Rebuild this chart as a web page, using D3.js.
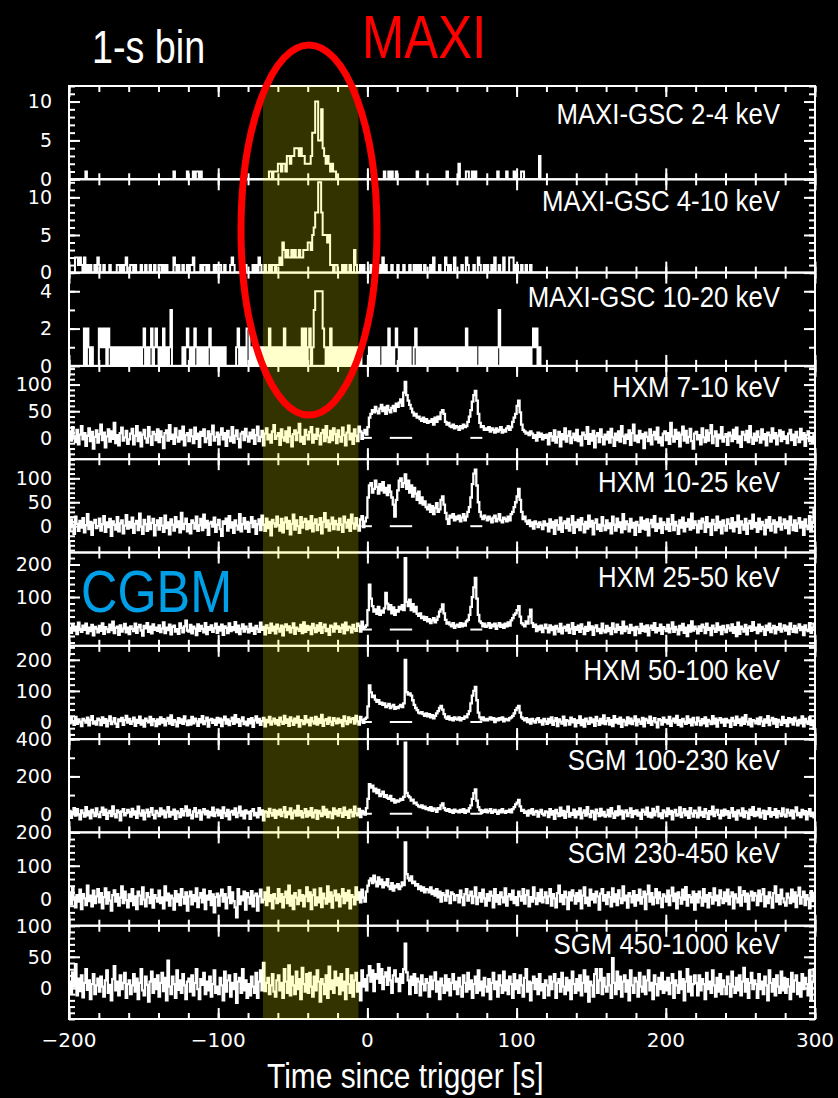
<!DOCTYPE html>
<html>
<head>
<meta charset="utf-8">
<script src="https://cdn.jsdelivr.net/npm/d3@7"></script>
<style>
  body { margin: 0; background: #000; }
  svg { display: block; }
</style>
</head>
<body>
<div id="chart"></div>
<script>
// 1-s bin light curves; each row holds 20 s, first row starts at t = -200 s
const tStart = -200

const gscLow = [
  [0,0,0,0,0,0,0,0,0,0,0,1,0,0,0,0,0,0,0,0],
  [0,0,0,0,0,0,0,0,0,0,0,0,0,0,0,0,0,0,0,0],
  [0,0,0,0,0,0,0,0,0,0,0,0,0,0,0,0,0,0,0,0],
  [0,0,0,0,0,0,0,0,0,0,1,0,0,0,0,0,0,0,0,1],
  [0,0,0,1,0,1,1,0,1,0,0,0,0,0,0,0,0,0,0,0],
  [0,0,0,0,0,0,0,0,0,0,0,0,0,0,0,0,0,0,0,0],
  [0,0,0,0,0,0,0,0,0,0,0,0,0,0,1,1,0,1,1,1],
  [2,2,1,2,2,1,3,3,2,3,3,4,4,4,3,4,3,3,2,2],
  [2,2,3,6,6,10,10,5,5,9,4,3,2,3,2,1,2,1,1,0],
  [0,0,0,0,0,0,0,0,0,0,0,0,0,0,0,0,0,0,0,0],
  [0,0,0,0,0,0,0,0,0,0,0,1,0,0,1,0,1,0,0,1],
  [0,0,0,0,0,0,0,0,0,0,0,0,0,1,0,0,0,0,0,0],
  [0,0,0,0,0,0,0,0,0,0,0,0,0,1,0,0,0,0,0,0],
  [0,2,0,0,0,0,1,1,0,0,1,0,1,0,0,0,0,0,0,0],
  [0,0,0,0,0,0,0,1,0,0,0,0,0,1,0,0,0,0,1,0],
  [0,0,0,1,1,0,0,0,0,0,0,0,0,0,0,3,0,0,0,0]
]

const gscMid = [
  [0,0,0,0,2,2,1,2,1,0,2,0,1,0,1,0,0,1,0,2],
  [1,0,0,1,0,0,0,1,0,0,0,0,1,1,0,1,0,1,2,0],
  [0,1,1,0,1,0,0,0,1,0,0,1,0,0,1,0,0,1,0,0],
  [1,1,0,1,0,1,0,0,0,0,2,1,0,1,0,0,1,0,0,1],
  [0,1,1,2,0,0,0,0,1,0,1,1,0,1,0,0,0,1,0,1],
  [1,1,0,0,1,0,0,0,1,2,1,0,0,0,0,1,1,0,1,0],
  [0,0,0,1,0,1,0,2,1,0,0,1,0,0,1,0,1,1,0,1],
  [1,2,1,4,3,2,3,2,2,3,2,3,2,2,3,2,2,3,3,3],
  [4,4,3,5,6,8,8,12,12,8,5,5,5,4,5,1,1,0,1,1],
  [0,0,0,1,0,1,0,0,1,0,0,3,1,0,0,1,0,1,0,0],
  [0,0,1,0,0,1,0,0,1,0,2,0,1,0,0,0,1,0,0,0],
  [1,0,0,0,1,0,0,0,1,0,0,1,0,1,0,1,0,0,1,0],
  [0,0,1,0,2,0,0,0,1,0,0,0,2,1,0,1,0,0,2,0],
  [0,0,0,1,0,0,2,1,0,0,0,1,0,0,2,1,0,0,1,0],
  [1,0,0,1,0,2,0,0,1,0,0,2,0,0,0,2,2,2,0,1],
  [1,0,0,1,0,0,1,0,0,1,0,0,0,0,0,0,0,0,0,0]
]

const gscHigh = [
  [0,0,0,0,0,0,0,0,0,0,2,0,2,1,0,1,0,0,0,0],
  [2,1,2,1,2,0,2,1,0,1,0,1,0,1,0,1,0,1,0,1],
  [0,1,0,1,0,1,0,1,0,1,2,0,1,0,1,2,0,1,2,1],
  [0,1,0,2,0,1,0,1,3,0,0,0,0,0,0,0,1,0,1,2],
  [1,0,1,0,2,1,0,1,0,1,0,1,0,1,2,0,1,0,1,0],
  [1,0,1,0,1,0,0,0,0,0,0,0,1,2,0,1,0,1,0,2],
  [2,0,1,0,1,0,1,0,1,0,1,0,1,0,2,0,1,0,1,0],
  [1,0,1,0,2,0,1,0,1,0,1,0,1,0,1,0,2,0,2,0],
  [1,2,0,1,3,4,4,4,4,4,2,1,0,1,0,2,0,1,0,1],
  [0,1,0,1,0,1,0,1,0,1,0,1,0,1,0,1,0,0,0,0],
  [0,1,0,1,0,1,0,1,0,0,1,0,1,0,2,0,1,0,1,2],
  [1,0,1,0,1,0,1,0,1,0,0,1,2,0,1,0,1,0,1,0],
  [1,0,1,0,1,0,1,0,1,0,1,0,1,0,1,0,1,0,1,0],
  [1,0,1,0,1,0,2,0,1,0,1,0,1,0,0,1,0,1,0,1],
  [0,1,0,1,0,1,0,1,3,0,1,0,1,0,1,0,1,0,1,0],
  [1,0,1,0,1,0,1,0,1,0,1,2,1,2,0,1,0,0,0,0]
]

const hxm7to10 = [
  [12,-5,20,3,-8,15,-12,6,22,-3,9,-15,4,18,-6,11,-20,2,14,-9],
  [7,25,-4,10,-18,3,16,-7,12,-2,28,-10,5,-14,9,19,-5,1,13,-11],
  [-3,8,17,-12,4,22,-6,10,-16,6,15,-1,-9,20,3,-13,11,7,-4,16],
  [-8,12,2,-19,9,14,-5,24,-2,6,-11,18,1,-7,13,-3,21,-14,5,9],
  [-6,15,3,-10,19,-2,8,-17,11,4,16,-8,-1,12,-13,7,23,-5,2,10],
  [-12,6,18,-3,9,-15,13,1,-6,20,-9,4,14,-2,-18,8,11,-4,17,3],
  [-7,10,-1,15,-11,5,21,-6,2,13,-14,8,18,-3,6,-9,12,24,-2,4],
  [9,-13,16,1,-5,12,-8,19,3,-16,7,14,-4,10,26,-7,2,-11,15,5],
  [-3,11,20,-9,6,-2,17,4,-12,9,15,-6,22,1,-8,13,-4,18,7,-10],
  [14,2,-7,19,5,-14,10,23,-3,8,-11,16,4,-6,21,12,-2,9,15,6],
  [20,38,45,52,48,58,50,46,55,62,50,57,45,60,52,48,56,60,50,64],
  [58,66,72,60,85,105,80,70,62,55,48,42,45,38,40,35,32,38,30,35],
  [28,32,30,35,25,38,30,40,35,48,52,45,30,25,28,22,20,25,18,22],
  [20,15,22,18,25,20,22,30,40,52,68,80,88,70,45,28,20,22,15,18],
  [15,20,12,18,15,10,18,12,15,20,10,15,12,18,22,15,20,30,38,45],
  [60,70,48,25,15,12,8,10,5,12,8,0,5,-5,10,2,8,-3,5,0],
  [6,-12,9,3,-5,14,-9,2,11,-16,7,-3,18,-7,4,12,-10,1,8,-4],
  [15,-6,3,-14,10,5,-2,20,-11,7,-5,13,-18,4,9,-8,16,2,-12,6],
  [-3,11,-9,17,1,-15,8,-4,12,-7,22,3,-10,6,-2,14,-13,9,25,-5],
  [4,-8,13,-1,7,-19,10,2,-6,16,-12,5,11,-3,19,-9,1,-14,8,12],
  [-4,9,-11,28,3,-7,15,-2,10,-16,6,21,-5,13,-9,2,17,-6,-20,8],
  [11,-3,5,-12,18,1,-8,14,-5,9,24,-10,3,12,-15,6,-1,20,-7,2],
  [7,-13,10,4,-6,15,-2,19,-9,3,-17,11,6,-4,13,-8,22,1,-11,8],
  [-5,12,2,-9,16,-3,7,-14,10,5,-7,18,-1,9,-12,4,14,-6,11,-2],
  [3,-10,8,15,-4,6,-13,11,1,-8,17,-3,9,-15,5,12,-6,2,-9,7]
]

const hxm10to25 = [
  [-8,14,3,-16,20,5,-10,11,-3,17,-13,2,25,-6,9,-18,7,13,-4,0],
  [16,-9,4,21,-12,8,-2,15,-20,10,3,-7,19,-11,6,12,-15,1,23,-5],
  [9,-3,18,-14,5,11,-8,26,-1,-16,13,4,-10,20,-6,7,15,-19,2,12],
  [-7,17,1,-12,22,-4,8,-17,14,3,-9,19,-2,10,-13,28,-6,5,16,-11],
  [4,-15,12,7,-5,20,-10,2,15,-8,24,-3,11,-18,6,9,-1,18,-12,3],
  [13,-6,-20,10,5,16,-9,21,-3,8,-14,12,1,-7,25,-11,4,17,-5,9],
  [-12,7,19,-2,11,-16,4,14,-8,22,3,-10,16,-4,9,-19,13,6,-1,20],
  [2,-9,15,-13,8,18,-5,11,-17,5,24,-7,12,0,-14,19,-3,9,15,-6],
  [10,-4,21,-11,6,14,-8,3,17,-15,9,27,-2,12,-9,5,18,-6,11,4],
  [-7,16,3,-12,20,8,-3,13,-10,24,6,-5,17,1,-9,14,21,-2,10,18],
  [60,85,90,70,78,95,82,68,88,75,92,70,80,65,85,72,60,45,20,55],
  [75,95,100,82,90,108,78,95,70,85,62,80,68,55,72,48,60,45,52,40],
  [35,45,30,42,25,38,48,30,35,55,62,45,28,15,5,22,18,25,12,20],
  [15,22,10,18,25,12,20,30,40,60,88,110,118,85,50,30,20,15,22,18],
  [12,20,15,8,18,22,10,15,25,12,8,18,15,10,20,12,25,30,40,50],
  [62,78,55,30,15,20,10,5,12,0,8,-5,10,5,-2,8,3,-6,10,2],
  [5,-11,14,-3,9,-16,12,2,-7,18,-12,6,10,-4,15,-9,3,21,-14,8],
  [-2,13,-8,17,4,-13,9,-5,22,-1,11,-17,7,14,-6,3,-10,19,1,-8],
  [12,-4,6,-15,20,3,-9,16,-2,8,-13,25,-6,10,4,-11,15,-3,7,-18],
  [9,2,-12,18,-5,11,-7,14,-19,6,13,-2,21,-10,5,-4,16,-14,8,3],
  [-6,15,-10,4,23,-8,9,1,-16,12,-3,18,-11,7,-1,14,-7,26,-4,10],
  [3,-13,11,-5,16,8,-12,19,-2,6,-18,13,4,-8,20,-3,9,-15,12,1],
  [-9,14,5,-4,17,-11,8,-1,22,-14,10,3,-7,15,-16,6,11,-5,24,-2],
  [7,-12,16,-6,9,2,-17,13,-3,19,-9,5,12,-13,8,-1,18,-7,4,14],
  [-4,10,-15,20,3,-8,12,-10,6,17,-3,9,-18,14,1,-6,21,-11,7,35]
]

const hxm25to50 = [
  [5,-10,16,-3,9,-14,21,2,-7,12,-1,18,-12,6,-5,14,-18,8,3,-9],
  [11,-4,19,-13,7,1,-8,15,-2,24,-11,5,9,-16,13,-6,3,17,-9,6],
  [-14,10,2,-5,18,-10,7,14,-3,-19,11,4,20,-7,9,-12,16,-1,6,-4],
  [13,-8,3,22,-11,6,-2,15,-15,8,12,-6,1,-13,19,5,-9,10,27,-3],
  [-6,14,-12,9,3,-17,16,-4,11,2,-9,20,-14,7,-1,13,-7,4,18,-10],
  [8,-3,15,-16,10,5,-11,19,-5,7,-2,23,-8,12,-14,3,16,-6,9,1],
  [-9,17,-4,6,-13,11,2,-7,21,-1,8,-15,13,4,-10,18,-3,9,-12,15],
  [3,-6,12,-18,8,16,-2,10,-9,5,19,-13,6,1,-4,14,-11,22,-7,11],
  [-1,9,-14,17,4,-8,13,-3,20,-10,7,15,-5,2,-16,12,8,-6,18,3],
  [10,-7,4,15,-12,21,-2,9,6,-9,14,1,-4,18,11,-6,24,3,8,13],
  [60,138,95,72,55,62,48,70,45,58,52,65,113,80,62,75,50,68,45,60],
  [55,70,62,75,60,220,85,72,92,60,78,55,70,48,42,50,35,40,30,38],
  [25,32,20,28,35,22,30,40,55,62,77,50,30,18,22,15,10,20,5,12],
  [15,8,20,10,18,12,25,30,45,70,100,130,159,95,45,25,20,10,18,8],
  [12,20,5,15,10,18,2,12,20,8,15,5,18,10,22,12,28,35,45,50],
  [60,72,40,20,15,10,25,18,40,61,20,8,15,-5,10,0,12,-8,5,15],
  [4,-9,13,-2,8,-15,11,3,-6,17,-12,5,9,-3,14,-10,2,20,-13,7],
  [-1,12,-7,16,3,-14,8,-4,21,0,10,-16,6,13,-5,2,-11,18,-3,-9],
  [11,-5,5,-14,19,2,-8,15,-1,7,-12,24,-5,9,3,-10,14,-2,6,-17],
  [8,1,-11,17,-4,10,-6,13,-18,5,12,-1,20,-9,4,-3,15,-13,7,2],
  [-5,14,-9,3,22,-7,8,0,-15,11,-2,17,-10,6,-20,13,-6,25,-3,9],
  [2,-12,10,-4,15,7,-11,18,-1,5,-17,12,3,-7,19,-2,8,-14,11,0],
  [-8,13,4,-3,16,-10,7,-20,21,-13,9,2,-6,14,-15,5,10,-4,23,-1],
  [6,-11,15,-5,8,1,-16,12,-2,18,-8,4,11,-12,7,0,17,-6,3,13],
  [-3,9,-14,19,2,-7,11,-9,5,16,-2,8,-17,13,0,-5,20,-10,6,14]
]

const hxm50to100 = [
  [-4,12,3,-9,16,-6,8,1,-13,10,5,-2,14,-11,7,19,-5,2,-8,11],
  [6,-10,15,-3,9,-14,4,18,-7,1,12,-5,-16,8,3,13,-9,6,20,-2],
  [10,-6,2,14,-12,7,-3,17,-8,5,-15,11,4,-1,16,-10,9,3,-13,8],
  [-7,15,-2,9,-11,4,13,-5,21,-9,6,1,-14,12,-3,8,-6,18,2,-10],
  [5,-8,16,-4,11,2,-12,9,-1,19,-7,3,14,-15,6,10,-3,7,-9,13],
  [-2,11,-13,6,17,-5,8,-10,3,14,-6,22,-1,9,-12,4,15,-7,1,-11],
  [9,-4,12,-16,5,18,-2,10,-9,3,13,-14,7,-1,16,-8,2,11,-5,6],
  [-10,14,1,-6,20,-3,8,-12,15,4,-9,11,-2,17,-15,6,3,-7,19,-1],
  [7,-11,13,2,-5,16,-8,10,-3,23,-12,5,9,-6,14,1,-10,12,4,-4],
  [11,-2,6,-13,18,3,-7,15,-1,9,12,-5,20,2,-8,16,7,-3,10,14],
  [50,118,95,80,85,72,65,70,58,62,55,60,48,52,58,45,50,55,42,48],
  [45,50,55,48,60,200,96,88,92,85,70,55,45,38,30,28,32,25,20,28],
  [18,25,15,22,12,20,28,35,45,52,40,25,15,10,18,8,12,5,15,10],
  [8,15,5,12,10,18,15,25,35,60,85,100,113,70,30,15,8,15,5,10],
  [5,10,15,8,12,0,10,5,12,8,15,2,10,8,5,12,15,20,28,38],
  [45,52,30,15,10,5,12,0,8,-5,10,3,-2,8,12,0,5,-8,10,2],
  [-6,10,-2,15,-9,4,12,-13,8,1,-5,17,-11,6,3,-8,14,-1,9,-14],
  [5,-3,18,-10,7,-15,11,2,-6,13,-1,8,-12,16,4,-9,10,-4,21,-7],
  [3,12,-8,6,-13,19,-2,9,-5,14,-16,7,2,-10,15,-4,11,-7,4,18],
  [-11,8,1,-6,13,-14,10,5,-3,17,-9,3,12,-1,-17,9,6,-8,14,0],
  [7,-5,16,-12,4,11,-2,20,-9,6,-14,10,1,-6,18,-3,8,-11,13,-1],
  [-8,14,3,-10,9,-4,15,-13,7,2,-7,19,-5,11,-15,6,12,-2,8,-12],
  [10,-1,5,-16,13,4,-9,17,-3,8,-11,14,-6,22,1,-8,10,-14,6,3],
  [-4,11,-7,15,2,-12,8,-2,19,-10,5,13,-5,9,-16,7,1,-9,16,-3],
  [6,-13,12,-1,9,-8,14,3,-11,7,-4,18,-14,10,2,-6,15,-10,5,-22]
]

const sgm100to230 = [
  [15,-22,8,30,-10,25,-5,-30,18,3,-15,35,-8,12,-25,20,6,-12,28,-3],
  [-18,10,32,-6,22,-28,5,15,-12,40,-2,-20,18,8,-35,12,25,-8,3,20],
  [8,-15,26,-4,12,-22,38,2,-10,18,-30,6,22,-14,9,30,-6,-25,15,4],
  [-12,28,-3,16,-20,7,35,-15,10,-5,22,-28,12,3,-18,25,-8,14,40,-10],
  [20,-6,-25,12,30,-15,5,18,-32,8,24,-3,15,-20,10,-8,32,-12,6,22],
  [-8,16,-22,34,4,-12,20,-30,9,15,-5,28,-18,6,38,-10,12,-25,18,2],
  [10,-28,14,25,-8,5,-20,30,-4,18,-35,12,8,-15,26,3,-10,20,-22,15],
  [-5,22,-12,8,35,-18,10,-3,28,-25,6,16,-10,42,-8,14,-20,5,24,-15],
  [12,-8,30,-20,6,18,-28,15,2,-12,36,-5,22,-18,10,4,-24,28,-2,16],
  [-10,25,5,-16,32,-6,12,-22,20,8,-14,38,2,-8,26,-18,15,10,-4,30],
  [80,158,140,150,120,135,110,128,95,105,118,90,100,85,80,95,70,78,60,72],
  [65,70,80,75,90,381,112,95,88,70,75,56,60,48,40,35,45,30,38,25],
  [30,20,35,15,28,22,10,30,25,45,55,30,20,15,25,10,18,5,22,12],
  [15,8,20,10,25,5,18,12,30,45,80,110,130,70,35,20,5,18,10,22],
  [8,15,25,5,12,20,10,0,18,8,25,12,5,15,10,22,8,25,35,50],
  [60,74,40,15,20,5,12,-10,18,2,25,-5,10,15,-15,8,20,0,-8,12],
  [8,-18,25,-5,14,-28,20,3,-12,32,-8,15,-22,10,38,-15,5,-6,22,-20],
  [12,-4,28,-25,6,18,-10,35,-2,-18,15,8,-30,22,3,-12,26,-8,10,-15],
  [-6,20,-14,30,2,-22,12,-8,40,-3,16,-26,8,18,-12,5,28,-18,14,-2],
  [18,-10,6,-28,22,10,-5,32,-15,4,-20,26,-8,12,36,-14,2,-24,18,8],
  [-12,28,-2,15,-30,8,20,-10,-4,34,-18,6,24,-8,12,-22,30,2,-15,16],
  [5,-20,32,-8,10,-16,25,4,-28,14,-3,38,-12,8,20,-6,-25,16,-10,22],
  [-4,14,-22,6,30,-14,10,-32,18,2,-10,28,-18,12,5,-26,22,-6,35,-12],
  [10,-8,26,-20,4,16,-28,12,-2,30,-15,8,-6,24,-20,14,2,-12,28,-5],
  [-15,22,6,-10,18,-25,12,34,-8,4,-18,20,-3,14,-30,8,25,-12,6,-20]
]

const sgm230to450 = [
  [20,-15,35,5,-25,12,-8,28,-30,15,2,-18,40,-6,10,-22,25,-12,8,30],
  [-10,18,-28,6,32,-14,20,-5,-35,12,26,-8,15,-20,4,38,-12,22,-3,-25],
  [14,-6,30,-18,8,-30,22,10,-15,35,-2,-22,18,6,-12,28,-26,12,3,-8],
  [25,-12,5,-28,38,-4,16,-20,10,2,-32,24,-8,14,-18,30,6,-14,20,-35],
  [8,22,-16,12,-6,32,-24,4,18,-10,28,-30,10,-2,24,-18,14,-40,6,16],
  [-20,10,28,-8,15,-28,4,36,-12,20,-6,-25,-55,30,-15,8,-4,22,-32,18],
  [5,-14,24,-22,10,16,-35,8,28,-10,-2,20,-18,34,-6,12,-28,15,2,-12],
  [30,-8,15,-25,6,22,-12,40,-20,10,-30,18,4,-15,26,-5,12,-22,8,35],
  [-6,20,-30,12,28,-18,5,-10,32,-24,16,2,-14,38,-8,20,-26,10,25,-4],
  [14,-22,8,30,-12,18,-5,25,-28,12,6,-16,35,-2,20,-10,28,4,-8,22],
  [40,55,62,48,70,52,38,65,45,58,35,50,42,60,38,30,48,25,40,35],
  [45,30,38,50,42,170,75,62,55,68,48,52,40,45,30,38,25,35,20,30],
  [28,20,35,15,25,10,30,5,22,-8,18,12,-5,25,8,-12,20,15,-3,10],
  [12,-10,25,5,-18,15,30,-5,10,22,-12,8,35,-15,5,18,-8,28,2,-20],
  [15,-5,22,10,-25,30,-8,12,-15,20,5,-10,32,-20,8,15,-2,25,-12,6],
  [-18,22,8,-5,30,-14,12,25,-22,6,-8,35,2,-15,18,-6,28,-10,5,20],
  [-12,8,30,-20,15,2,-25,18,40,-8,12,-15,22,5,-30,20,-4,26,10,-14],
  [18,-6,25,-28,10,35,-12,4,-20,28,-2,15,-10,22,8,-32,16,30,-5,12],
  [-15,20,6,-22,32,-8,14,-18,26,2,-12,38,-4,10,-26,18,8,-10,24,-20],
  [12,-4,28,-14,6,22,-30,15,40,-8,18,-16,5,30,-12,20,2,-24,14,8],
  [-8,25,-18,10,34,-6,16,-28,20,4,-14,28,-2,36,-20,12,6,-10,22,-32],
  [15,-10,22,4,-20,30,-8,12,-25,18,6,-14,32,-4,10,-18,26,2,-12,20],
  [-6,28,-16,8,20,-28,14,2,-10,35,-20,12,24,-8,16,-30,10,22,-4,18],
  [10,-18,25,-6,14,30,-22,8,-12,20,4,-26,18,38,-8,12,-15,28,2,-10],
  [-20,16,4,-12,28,-8,20,-24,10,34,-14,6,22,-18,12,2,-28,24,-6,14]
]

const sgm450to1000 = [
  [10,-8,25,3,38,-12,15,-5,20,-15,8,30,-3,12,-18,6,22,-10,4,15],
  [-6,18,2,-14,12,28,-8,5,-20,14,35,-4,10,-12,20,-2,8,24,-16,6],
  [12,-10,4,22,-6,15,-18,8,30,-4,-12,18,5,-22,10,26,-8,14,-2,20],
  [-14,8,24,-5,16,-20,44,2,-10,18,6,-16,28,-3,12,-8,22,4,-18,10],
  [15,-6,20,-12,8,30,-2,-18,14,5,24,-10,10,-4,18,-14,6,28,-8,2],
  [-10,16,4,-20,26,-6,12,20,-14,8,-2,22,-24,10,16,-8,30,-4,12,-16],
  [6,-12,18,2,-8,24,-16,10,28,-4,40,-5,8,16,-10,4,22,-6,-14,12],
  [20,-4,8,-16,30,10,-8,36,-12,18,4,-10,26,-2,14,-18,32,6,-6,22],
  [-8,24,2,-14,18,-4,28,10,-22,14,6,-10,20,-16,34,-2,12,-8,26,4],
  [16,-10,22,-4,10,-18,30,6,-8,20,-14,12,24,-6,8,-20,28,2,14,-4],
  [20,35,10,28,-5,22,15,38,8,30,-2,18,25,5,32,12,-8,20,28,10],
  [15,-5,22,8,30,71,25,12,-10,18,5,22,-8,15,10,-12,20,6,-4,14],
  [8,-14,18,-2,12,25,-6,10,-18,15,4,-8,20,-4,14,-12,8,22,-2,10],
  [-10,16,2,-14,20,8,-6,24,-2,12,-16,6,18,-8,28,-4,10,-12,16,2],
  [-6,14,-18,8,24,-2,10,-14,20,4,-8,26,-4,12,-10,18,6,-16,22,-2],
  [12,-8,20,4,-14,16,30,-6,10,-20,8,18,-2,14,-10,22,-4,6,-16,12],
  [4,-12,18,-2,10,22,-16,8,14,-6,24,2,-10,16,-4,12,-18,26,6,-8],
  [14,-4,20,-12,8,28,-6,18,-22,10,4,-14,22,30,-8,12,30,-10,16,2],
  [-6,22,4,-16,48,8,-10,26,-2,18,-14,10,20,-6,12,-20,28,4,-8,16],
  [10,-14,24,2,-6,18,-10,12,28,-4,8,-18,20,6,-12,16,-2,24,-8,10],
  [-4,16,-10,8,22,-16,12,4,-8,26,-2,14,-20,10,30,-6,18,-12,6,20],
  [8,-12,20,-4,14,6,-18,24,-2,10,-8,28,4,-14,16,-6,22,-10,12,2],
  [-10,18,6,-14,26,2,-8,16,-4,20,-12,10,32,-6,14,-16,8,24,-2,12],
  [6,-16,22,-2,10,-10,18,4,-20,28,8,-6,14,-12,20,2,-8,26,-4,16],
  [-8,14,2,-18,24,-6,12,20,-10,8,-14,22,-2,16,6,-12,28,-20,10,30]
]

const panelNames = [
  "MAXI-GSC 2-4 keV", "MAXI-GSC 4-10 keV", "MAXI-GSC 10-20 keV",
  "HXM 7-10 keV", "HXM 10-25 keV", "HXM 25-50 keV", "HXM 50-100 keV",
  "SGM 100-230 keV", "SGM 230-450 keV", "SGM 450-1000 keV"
]
const series = [gscLow, gscMid, gscHigh, hxm7to10, hxm10to25, hxm25to50,
  hxm50to100, sgm100to230, sgm230to450, sgm450to1000]

const yDomains = [[0, 12], [0, 12.4], [0, 5], [-40, 135], [-55, 140],
  [-50, 237], [-55, 245], [-100, 400], [-80, 200], [-50, 100]]
const yLabels = [[0, 5, 10], [0, 5, 10], [0, 2, 4], [0, 50, 100], [0, 50, 100],
  [0, 100, 200], [0, 100, 200], [0, 200, 400], [0, 100, 200], [0, 50, 100]]
const yMinorStep = [1, 1, 1, 10, 10, 20, 20, 100, 20, 10]

const xLabels = [-200, -100, 0, 100, 200, 300]
const xMinorStep = 20

// time window highlighted in yellow, and the short zero-level marks of CGBM panels
const highlight = [-70, -6]
const zeroMarks = [[-4, 3], [15, 30], [69, 77]]
const markPanels = [3, 4, 5, 6, 7]

// layout
const W = 838, H = 1098
const margin = {top: 86, right: 23, bottom: 79, left: 69}
const plotL = margin.left, plotR = W - margin.right
const plotT = margin.top, plotB = H - margin.bottom
const ph = (plotB - plotT) / panelNames.length
const titleDy = [38, 32, 34, 31, 33, 34, 34, 31, 31, 28]
const condensed = "'Liberation Sans', Arial, sans-serif"
const tickFont = "'DejaVu Sans', sans-serif"

const svg = d3.select("#chart")
  .append("svg")
  .attr("width", W)
  .attr("height", H)

svg.append("rect").attr("width", W).attr("height", H).attr("fill", "#000")

const x = d3.scaleLinear().domain([-200, 300]).range([plotL, plotR])
const xMinor = d3.range(-200, 301, xMinorStep)

function toPoints(rows) {
  const pts = []
  rows.forEach((row, r) => row.forEach((v, k) => pts.push([tStart + 20 * r + k, v])))
  const last = pts[pts.length - 1]
  pts.push([last[0] + 1, last[1]])
  return pts
}

function tickGroup(axis, tx, ty) {
  const g = svg.append("g")
    .attr("transform", `translate(${tx},${ty})`)
    .call(axis.tickSizeOuter(0).tickFormat(""))
  g.select(".domain").remove()
  g.selectAll("line").attr("stroke", "#fff").attr("stroke-width", 2)
}

const dataLayer = svg.append("g")

panelNames.forEach((name, i) => {
  const y0 = plotT + i * ph, y1 = y0 + ph
  const dom = yDomains[i]
  const y = d3.scaleLinear().domain(dom).range([y1, y0])

  dataLayer.append("clipPath")
    .attr("id", "clip" + i)
    .append("rect")
    .attr("x", plotL).attr("y", y0)
    .attr("width", plotR - plotL).attr("height", ph)

  const line = d3.line()
    .x(d => x(d[0]))
    .y(d => y(d[1]))
    .curve(d3.curveStepAfter)

  dataLayer.append("path")
    .datum(toPoints(series[i]))
    .attr("clip-path", `url(#clip${i})`)
    .attr("d", line)
    .attr("fill", "none")
    .attr("stroke", "#fff")
    .attr("stroke-width", i < 3 ? 2 : 2.3)

  if (markPanels.includes(i)) {
    dataLayer.selectAll(null)
      .data(zeroMarks)
      .join("line")
      .attr("x1", d => x(d[0]))
      .attr("x2", d => x(d[1]))
      .attr("y1", y(0))
      .attr("y2", y(0))
      .attr("stroke", "#fff")
      .attr("stroke-width", 2)
  }

  // frame
  svg.append("rect")
    .attr("x", plotL).attr("y", y0)
    .attr("width", plotR - plotL).attr("height", ph)
    .attr("fill", "none")
    .attr("stroke", "#fff")
    .attr("stroke-width", 2)

  // x ticks, inward on top and bottom edges
  tickGroup(d3.axisTop(x).tickValues(xMinor).tickSize(6), 0, y1)
  tickGroup(d3.axisTop(x).tickValues(xLabels).tickSize(11), 0, y1)
  tickGroup(d3.axisBottom(x).tickValues(xMinor).tickSize(6), 0, y0)
  tickGroup(d3.axisBottom(x).tickValues(xLabels).tickSize(11), 0, y0)

  // y ticks, inward on left and right edges
  const step = yMinorStep[i]
  const minor = d3.range(Math.ceil(dom[0] / step) * step, dom[1] + 1e-9, step)
  const major = yLabels[i].filter(v => v >= dom[0] && v <= dom[1])
  tickGroup(d3.axisRight(y).tickValues(minor).tickSize(6), plotL, 0)
  tickGroup(d3.axisRight(y).tickValues(major).tickSize(11), plotL, 0)
  tickGroup(d3.axisLeft(y).tickValues(minor).tickSize(6), plotR, 0)
  tickGroup(d3.axisLeft(y).tickValues(major).tickSize(11), plotR, 0)

  // y tick labels
  svg.append("g")
    .selectAll("text")
    .data(yLabels[i])
    .join("text")
    .attr("x", plotL - 17)
    .attr("y", d => y(d))
    .attr("dy", "0.36em")
    .attr("text-anchor", "end")
    .attr("fill", "#fff")
    .style("font-family", tickFont)
    .style("font-size", "19px")
    .text(d => d)

  // panel title
  svg.append("text")
    .attr("transform", `translate(780,${y0 + titleDy[i]}) scale(0.86,1)`)
    .attr("text-anchor", "end")
    .attr("fill", "#fff")
    .style("font-family", condensed)
    .style("font-size", "30px")
    .text(name)
})

// x tick labels
svg.append("g")
  .selectAll("text")
  .data(xLabels)
  .join("text")
  .attr("x", d => x(d))
  .attr("y", plotB + 28)
  .attr("text-anchor", "middle")
  .attr("fill", "#fff")
  .style("font-family", tickFont)
  .style("font-size", "20px")
  .text(d => d3.format("d")(d))

// highlighted interval
svg.append("rect")
  .attr("x", x(highlight[0]))
  .attr("y", plotT)
  .attr("width", x(highlight[1]) - x(highlight[0]))
  .attr("height", plotB - plotT)
  .attr("fill", "#ffff00")
  .attr("opacity", 0.2)

// MAXI ellipse
svg.append("ellipse")
  .attr("cx", 309)
  .attr("cy", 230)
  .attr("rx", 68)
  .attr("ry", 185)
  .attr("fill", "none")
  .attr("stroke", "#ff0000")
  .attr("stroke-width", 7)

function label(text, tx, ty, size, color, sx) {
  svg.append("text")
    .attr("transform", `translate(${tx},${ty}) scale(${sx},1)`)
    .attr("fill", color)
    .style("font-family", condensed)
    .style("font-size", size + "px")
    .text(text)
}

label("1-s bin", 92, 63, 46, "#fff", 0.82)
label("MAXI", 362, 58, 62, "#ff0000", 0.82)
label("CGBM", 81, 612, 60, "#00a0e9", 0.84)
label("Time since trigger [s]", 267, 1088, 35, "#fff", 0.855)
</script>
</body>
</html>
